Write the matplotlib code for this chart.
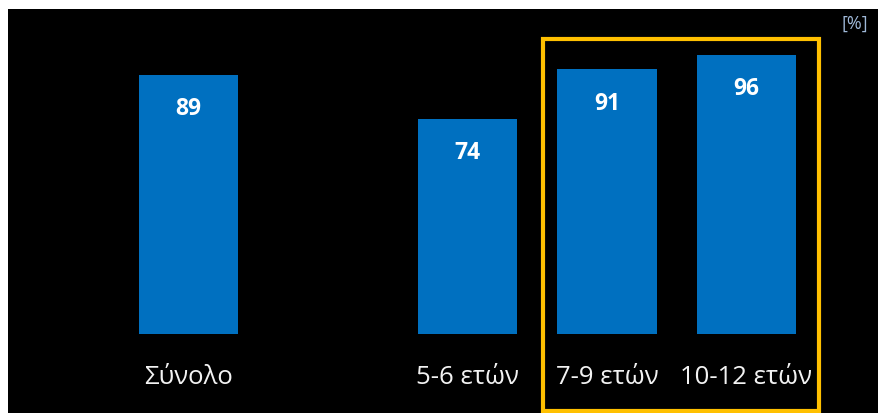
import matplotlib.pyplot as plt
from matplotlib.patches import Rectangle

# data
categories = ['Σύνολο', '5-6 ετών', '7-9 ετών', '10-12 ετών']
positions = [0, 2, 3, 4]          # gap after "Σύνολο"
values = [89, 74, 91, 96]
highlight = [2, 3]                # indices inside the yellow frame
unit_label = '[%]'

BAR_COLOR = '#0070C0'
FRAME_COLOR = '#FFC000'
FONT = ['Open Sans', 'DejaVu Sans']

fig = plt.figure(figsize=(8.79, 4.14), dpi=100)
fig.patch.set_facecolor('white')

# black panel, leaving a thin white margin left and top
ax = fig.add_axes([8 / 879, 0, 871 / 879, 404 / 414])
ax.set_facecolor('black')

ax.bar(positions, values, width=0.715, color=BAR_COLOR, zorder=2)

for x, v in zip(positions, values):
    ax.text(x, v - 11.5, str(v), ha='center', va='center', color='white',
            fontsize=16.5, fontweight='bold', family=FONT, zorder=3)

for x, c in zip(positions, categories):
    ax.text(x, -14.5, c, ha='center', va='center', color='#F2F2F2',
            fontsize=18.5, family=FONT)

# yellow frame around the age groups 7-9 and 10-12
x0 = positions[highlight[0]] - 0.46
x1 = positions[highlight[-1]] + 0.52
frame = Rectangle((x0, -26.3), x1 - x0, 127.5, fill=False,
                  edgecolor=FRAME_COLOR, linewidth=3, zorder=4, clip_on=False)
ax.add_patch(frame)

ax.text(0.988, 0.965, unit_label, transform=ax.transAxes, ha='right', va='center',
        color='#9FB8D8', fontsize=13, family=FONT)

ax.set_xlim(-1.294, 4.950)
ax.set_ylim(-27.15, 111.68)
ax.set_xticks([])
ax.set_yticks([])
for s in ax.spines.values():
    s.set_visible(False)

fig.savefig('out.png', dpi=100, facecolor=fig.get_facecolor())
